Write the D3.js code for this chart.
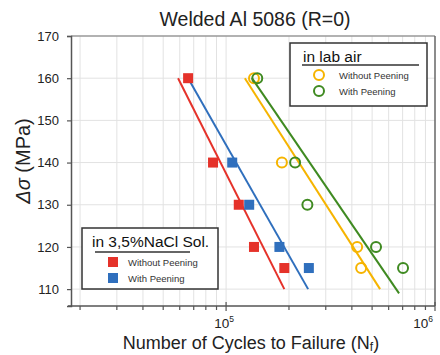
<!DOCTYPE html>
<html>
<head>
<meta charset="utf-8">
<script src="https://cdn.jsdelivr.net/npm/d3@7"></script>
<style>
  body { margin: 0; background: #fff; }
  svg { display: block; font-family: "Liberation Sans", Arial, sans-serif; }
</style>
</head>
<body>
<div id="chart"></div>
<script>
// stress levels (MPa) and cycles to failure
const naclWithoutStress = [160, 140, 130, 120, 115];
const naclWithoutCycles = [6.58e4, 8.66e4, 1.15e5, 1.36e5, 1.90e5];
const naclWithStress = [140, 130, 120, 115];
const naclWithCycles = [1.07e5, 1.29e5, 1.80e5, 2.49e5];
const airWithoutStress = [160, 140, 120, 115];
const airWithoutCycles = [1.36e5, 1.85e5, 4.24e5, 4.43e5];
const airWithStress = [160, 140, 130, 120, 115];
const airWithCycles = [1.41e5, 2.14e5, 2.45e5, 5.22e5, 7.03e5];

// fitted lines, [cycles, stress] at both ends
const fitNaclWithout = [[5.89e4, 160], [1.90e5, 110]];
const fitNaclWith = [[6.58e4, 160], [2.47e5, 110]];
const fitAirWithout = [[1.23e5, 160], [5.46e5, 110]];
const fitAirWith = [[1.33e5, 160], [6.73e5, 109]];

const yTicks = [110, 120, 130, 140, 150, 160, 170];
const xMajor = [1e5, 1e6];
const xMinor = [2e4, 3e4, 4e4, 5e4, 6e4, 7e4, 8e4, 9e4, 2e5, 3e5, 4e5, 5e5, 6e5, 7e5, 8e5, 9e5];

const legendLabels = ["Without Peening", "With Peening"];

const red = "#e5322a", blue = "#2f6fbd", yellow = "#f6b400", green = "#3f8a21";

const width = 440, height = 355;
const svg = d3.select("#chart").append("svg")
  .attr("width", width)
  .attr("height", height);

const x = d3.scaleLog().domain([1.81e4, 1e6]).range([71, 435]);
const y = d3.scaleLinear().domain([106, 170]).range([306, 36]);

// grid
svg.append("g").selectAll("line")
  .data(xMinor.concat([1e5]))
  .join("line")
  .attr("x1", d => x(d)).attr("x2", d => x(d))
  .attr("y1", y(170)).attr("y2", y(106))
  .attr("stroke", "#e2e2e2").attr("stroke-width", 1);

svg.append("g").selectAll("line")
  .data(yTicks.slice(0, -1))
  .join("line")
  .attr("x1", x.range()[0]).attr("x2", x.range()[1])
  .attr("y1", d => y(d)).attr("y2", d => y(d))
  .attr("stroke", "#e2e2e2").attr("stroke-width", 1);

// frame
svg.append("line")
  .attr("x1", 71).attr("x2", 435).attr("y1", y(170)).attr("y2", y(170))
  .attr("stroke", "#999").attr("stroke-width", 1.5);
svg.append("line")
  .attr("x1", 435).attr("x2", 435).attr("y1", y(170)).attr("y2", y(106))
  .attr("stroke", "#666").attr("stroke-width", 1.5);

// y axis
const yAxis = svg.append("g")
  .attr("transform", "translate(71,0)")
  .call(d3.axisLeft(y).tickValues(yTicks).tickSize(4).tickPadding(8));
yAxis.select(".domain").attr("stroke", "#555").attr("stroke-width", 1.5);
yAxis.selectAll(".tick line").attr("stroke", "#555").attr("stroke-width", 1.2);
yAxis.selectAll("text").attr("font-size", 13).attr("fill", "#222");

// x axis
const xg = svg.append("g").attr("transform", "translate(0,306)");
xg.append("line")
  .attr("x1", 68).attr("x2", 435)
  .attr("stroke", "#555").attr("stroke-width", 1.5);
xg.selectAll(".minor")
  .data(xMinor)
  .join("line")
  .attr("x1", d => x(d)).attr("x2", d => x(d))
  .attr("y1", 0).attr("y2", 4)
  .attr("stroke", "#555").attr("stroke-width", 1.2);
xg.selectAll(".major")
  .data(xMajor)
  .join("line")
  .attr("x1", d => x(d)).attr("x2", d => x(d))
  .attr("y1", -4).attr("y2", 5)
  .attr("stroke", "#555").attr("stroke-width", 1.2);
const xl = xg.selectAll(".lab")
  .data(xMajor)
  .join("text")
  .attr("x", (d, i) => i === 0 ? x(d) - 2 : Math.min(x(d) - 2, 439))
  .attr("y", 22)
  .attr("text-anchor", (d, i) => i === 0 ? "middle" : "end")
  .attr("font-size", 13.5)
  .attr("fill", "#222");
xl.append("tspan").text("10");
xl.append("tspan").attr("dy", -6).attr("font-size", 8.5)
  .text(d => String(Math.round(Math.log10(d))));

// fit lines
const line = d3.line().x(d => x(d[0])).y(d => y(d[1]));
[[fitNaclWithout, red], [fitNaclWith, blue], [fitAirWithout, yellow], [fitAirWith, green]]
  .forEach(([pts, c]) => {
    svg.append("path")
      .datum(pts)
      .attr("d", line)
      .attr("fill", "none")
      .attr("stroke", c)
      .attr("stroke-width", 2);
  });

// squares
function squares(cycles, stress, c) {
  svg.append("g").selectAll("rect")
    .data(d3.zip(cycles, stress))
    .join("rect")
    .attr("x", d => x(d[0]) - 5)
    .attr("y", d => y(d[1]) - 5)
    .attr("width", 10).attr("height", 10)
    .attr("fill", c);
}
function circles(cycles, stress, c) {
  svg.append("g").selectAll("circle")
    .data(d3.zip(cycles, stress))
    .join("circle")
    .attr("cx", d => x(d[0]))
    .attr("cy", d => y(d[1]))
    .attr("r", 5)
    .attr("fill", "none")
    .attr("stroke", c)
    .attr("stroke-width", 2);
}
squares(naclWithoutCycles, naclWithoutStress, red);
squares(naclWithCycles, naclWithStress, blue);
circles(airWithoutCycles, airWithoutStress, yellow);
circles(airWithCycles, airWithStress, green);

// legend: lab air
const lg1 = svg.append("g").attr("transform", "translate(290,43)");
lg1.append("rect").attr("width", 137).attr("height", 63)
  .attr("fill", "#fff").attr("stroke", "#333").attr("stroke-width", 1.5);
lg1.append("text").attr("x", 13).attr("y", 19)
  .attr("font-size", 15.5).attr("fill", "#111").text("in lab air");
lg1.append("line").attr("x1", 12).attr("x2", 129).attr("y1", 22).attr("y2", 22)
  .attr("stroke", "#666").attr("stroke-width", 1.8);
lg1.selectAll("circle").data([yellow, green]).join("circle")
  .attr("cx", 29).attr("cy", (d, i) => 32 + i * 16).attr("r", 5)
  .attr("fill", "none").attr("stroke", d => d).attr("stroke-width", 2);
lg1.selectAll(".t").data(legendLabels).join("text")
  .attr("x", 49).attr("y", (d, i) => 35.5 + i * 16)
  .attr("font-size", 9.5).attr("fill", "#333").text(d => d);

// legend: NaCl
const lg2 = svg.append("g").attr("transform", "translate(82,228)");
lg2.append("rect").attr("width", 136).attr("height", 61)
  .attr("fill", "#fff").attr("stroke", "#333").attr("stroke-width", 1.5);
lg2.append("text").attr("x", 10).attr("y", 19)
  .attr("font-size", 15.5).attr("fill", "#111").text("in 3,5%NaCl Sol.");
lg2.append("line").attr("x1", 13).attr("x2", 108).attr("y1", 24).attr("y2", 24)
  .attr("stroke", "#666").attr("stroke-width", 1.8);
lg2.selectAll("rect.m").data([red, blue]).join("rect")
  .attr("class", "m")
  .attr("x", 26).attr("y", (d, i) => 29 + i * 16)
  .attr("width", 10).attr("height", 10).attr("fill", d => d);
lg2.selectAll(".t").data(legendLabels).join("text")
  .attr("x", 46).attr("y", (d, i) => 38 + i * 16)
  .attr("font-size", 9.5).attr("fill", "#333").text(d => d);

// title and axis labels
svg.append("text").attr("x", 255).attr("y", 26)
  .attr("text-anchor", "middle").attr("font-size", 19.5).attr("fill", "#222")
  .text("Welded Al 5086 (R=0)");

const yl = svg.append("text")
  .attr("transform", "translate(30,161) rotate(-90)")
  .attr("text-anchor", "middle").attr("font-size", 20).attr("fill", "#222");
yl.append("tspan").attr("font-style", "italic").text("Δσ");
yl.append("tspan").text("  (MPa)");

const xt = svg.append("text").attr("x", 251).attr("y", 349)
  .attr("text-anchor", "middle").attr("font-size", 18).attr("fill", "#222");
xt.append("tspan").text("Number of Cycles to Failure (N");
xt.append("tspan").attr("font-size", 12).attr("dy", 2).text("f");
xt.append("tspan").attr("dy", -2).text(")");
</script>
</body>
</html>
